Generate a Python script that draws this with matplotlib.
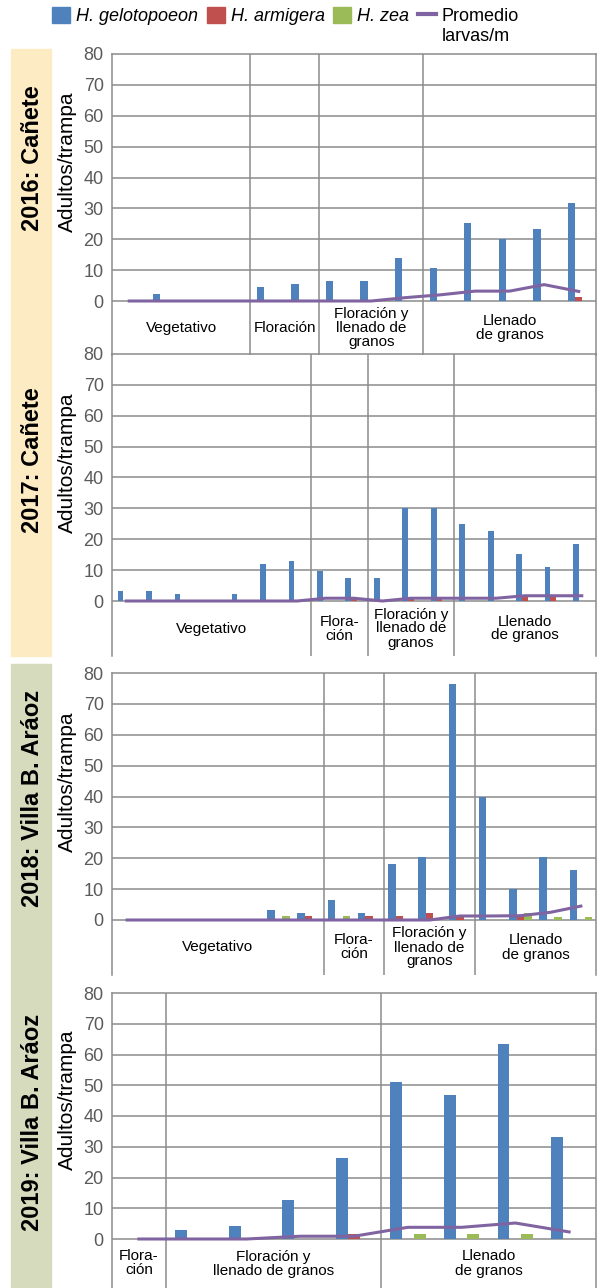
import numpy as np
import matplotlib
matplotlib.use("Agg")
import matplotlib.pyplot as plt
from matplotlib.patches import Patch, Rectangle
from matplotlib.lines import Line2D

plt.rcParams['font.family'] = ['Liberation Sans', 'DejaVu Sans']

AZUL = '#4F81BD'
ROJO = '#C0504D'
VERDE = '#9BBB59'
MORADO = '#8064A2'
GRIS = '#8C8C8C'

# ---- datos (adultos/trampa por fecha de muestreo y promedio de larvas/m) ----
gelo_2016 = [0, 2.3, 0, 0, 4.4, 5.4, 6.5, 6.5, 13.8, 10.7, 25.3, 20.0, 23.3, 31.6]
armi_2016 = [0, 0, 0, 0, 0, 0, 0, 0, 0, 0, 0, 0, 0, 1.3]
zea_2016 = [0, 0, 0, 0, 0, 0, 0, 0, 0, 0, 0, 0, 0, 0]
larvas_2016 = [0, 0, 0, 0, 0, 0, 0, 0, 1.1, 2.0, 3.2, 3.2, 5.3, 3.1]
etapas_2016 = ["Vegetativo", "Floración", "Floración y\nllenado de\ngranos", "Llenado\nde granos"]
n_etapas_2016 = [4, 2, 3, 5]

gelo_2017 = [3.3, 3.3, 2.3, 0, 2.3, 11.9, 13.0, 9.8, 7.6, 7.6, 30.2, 30.2, 24.8, 22.6, 15.2, 10.9, 18.4]
armi_2017 = [0, 0, 0, 0, 0, 0, 0, 0, 1.2, 0, 1.2, 1.2, 0, 0, 1.2, 1.2, 0]
zea_2017 = [0, 0, 0, 0, 0, 0, 0, 0, 0, 0, 0, 0, 0, 0, 0, 0, 0]
larvas_2017 = [0, 0, 0, 0, 0, 0, 0, 0.9, 0.9, 0, 0.9, 0.9, 0.9, 0.9, 1.7, 1.7, 1.7]
etapas_2017 = ["Vegetativo", "Flora-\nción", "Floración y\nllenado de\ngranos", "Llenado\nde granos"]
n_etapas_2017 = [7, 2, 3, 5]

gelo_2018 = [0, 0, 0, 0, 0, 3.2, 2.2, 6.5, 2.2, 18.2, 20.5, 76.3, 39.7, 10.0, 20.5, 16.2]
armi_2018 = [0, 0, 0, 0, 0, 0, 1.3, 0, 1.3, 1.3, 2.4, 1.2, 0, 1.2, 0, 0]
zea_2018 = [0, 0, 0, 0, 0, 1.3, 0, 1.3, 0, 0, 0, 0, 0, 2.2, 1.1, 1.1]
larvas_2018 = [0, 0, 0, 0, 0, 0, 0, 0, 0, 0, 0, 1.3, 1.3, 1.4, 2.5, 4.5]
etapas_2018 = ["Vegetativo", "Flora-\nción", "Floración y\nllenado de\ngranos", "Llenado\nde granos"]
n_etapas_2018 = [7, 2, 3, 4]

gelo_2019 = [0, 2.9, 4.3, 12.6, 26.3, 51.1, 46.9, 63.5, 33.2]
armi_2019 = [0, 0, 0, 0, 1.7, 0, 0, 0, 0]
zea_2019 = [0, 0, 0, 0, 0, 1.6, 1.6, 1.6, 0]
larvas_2019 = [0, 0, 0, 0.9, 0.9, 3.8, 3.8, 5.2, 2.3]
etapas_2019 = ["Flora-\nción", "Floración y\nllenado de granos", "Llenado\nde granos"]
n_etapas_2019 = [1, 4, 4]

titulos = ["2016: Cañete", "2017: Cañete", "2018: Villa B. Aráoz", "2019: Villa B. Aráoz"]

# ---- disposicion en pixeles ----
W, H = 606, 1288
# (arriba, abajo, cero, centro titulo, centro ylabel, ancho barra)
geom = [
    (54, 355, 301, 158, 162, 0.21),
    (354, 656, 601, 460, 463, 0.20),
    (673, 975, 920, 798, 782, 0.25),
    (993, 1288, 1239, 1122, 1100, 0.22),
]
X0, X1 = 112, 596

datos = [
    (gelo_2016, armi_2016, zea_2016, larvas_2016, etapas_2016, n_etapas_2016),
    (gelo_2017, armi_2017, zea_2017, larvas_2017, etapas_2017, n_etapas_2017),
    (gelo_2018, armi_2018, zea_2018, larvas_2018, etapas_2018, n_etapas_2018),
    (gelo_2019, armi_2019, zea_2019, larvas_2019, etapas_2019, n_etapas_2019),
]

fig = plt.figure(figsize=(W / 100, H / 100), dpi=100)

# bandas de color a la izquierda (detras de todo)
fig.patches.append(Rectangle((11 / W, 1 - 656 / H), 40 / W, (656 - 49) / H,
                             transform=fig.transFigure, color='#FDEBC3', zorder=-5))
fig.patches.append(Rectangle((11 / W, 0), 40 / W, (1288 - 664) / H,
                             transform=fig.transFigure, color='#D7DBBE', zorder=-5))

for (gelo, armi, zea, larvas, etapas, n_etapas), (arr, aba, cero, yt, yl, w), titulo in zip(datos, geom, titulos):
    ax = fig.add_axes([X0 / W, 1 - aba / H, (X1 - X0) / W, (aba - arr) / H])
    ax.set_facecolor('none')
    n = len(gelo)
    x = np.arange(n)
    ax.bar(x - w, gelo, w, color=AZUL, zorder=3)
    ax.bar(x, armi, w, color=ROJO, zorder=3)
    ax.bar(x + w, zea, w, color=VERDE, zorder=3)
    ax.plot(x, larvas, color=MORADO, lw=2.2, zorder=4)

    ppu = (cero - arr) / 80
    ymin = -(aba - cero) / ppu
    ax.set_ylim(ymin, 80)
    ax.set_xlim(-0.5, n - 0.5)
    ax.set_yticks(range(0, 81, 10))
    ax.set_xticks([])
    ax.tick_params(axis='y', labelsize=13, labelcolor='#5a5a5a', length=0, pad=6)
    for v in range(0, 80, 10):
        ax.axhline(v, color=GRIS, lw=1.1, zorder=1)
    for lado in ['left', 'right', 'top']:
        ax.spines[lado].set_color(GRIS)
        ax.spines[lado].set_linewidth(1.1)
    ax.spines['bottom'].set_visible(False)

    limites = np.cumsum(n_etapas)
    for b in limites[:-1]:
        ax.axvline(b - 0.5, color=GRIS, lw=1.1, zorder=1)
    inicio = 0
    for etiqueta, k in zip(etapas, n_etapas):
        ax.text(inicio + k / 2 - 0.5, ymin / 2, etiqueta, ha='center', va='center',
                fontsize=11, linespacing=1.0)
        inicio += k

    alto = aba - arr
    ax.text((67 - X0) / (X1 - X0), (aba - yl) / alto, "Adultos/trampa", transform=ax.transAxes,
            rotation=90, ha='center', va='center', fontsize=15)
    ax.text((33 - X0) / (X1 - X0), (aba - yt) / alto, titulo, transform=ax.transAxes,
            rotation=90, ha='center', va='center', fontsize=17, fontweight='bold', zorder=10)

handles = [Patch(color=AZUL), Patch(color=ROJO), Patch(color=VERDE),
           Line2D([], [], color=MORADO, lw=3)]
leg = fig.legend(handles, ["H. gelotopoeon", "H. armigera", "H. zea", "Promedio"],
                 ncol=4, loc='upper left', bbox_to_anchor=(52 / W, 1 - 7 / H),
                 frameon=False, fontsize=13, handlelength=1.0, handleheight=1.0,
                 handletextpad=0.35, columnspacing=0.45, borderpad=0, borderaxespad=0)
for t in leg.get_texts()[:3]:
    t.set_style('italic')

fig.canvas.draw()
bb = leg.get_texts()[3].get_window_extent()
fig.text(bb.x0 / W, (bb.y0 - 3) / H, "larvas/m", fontsize=13, va='top', ha='left')

fig.savefig("out.png", dpi=100)
